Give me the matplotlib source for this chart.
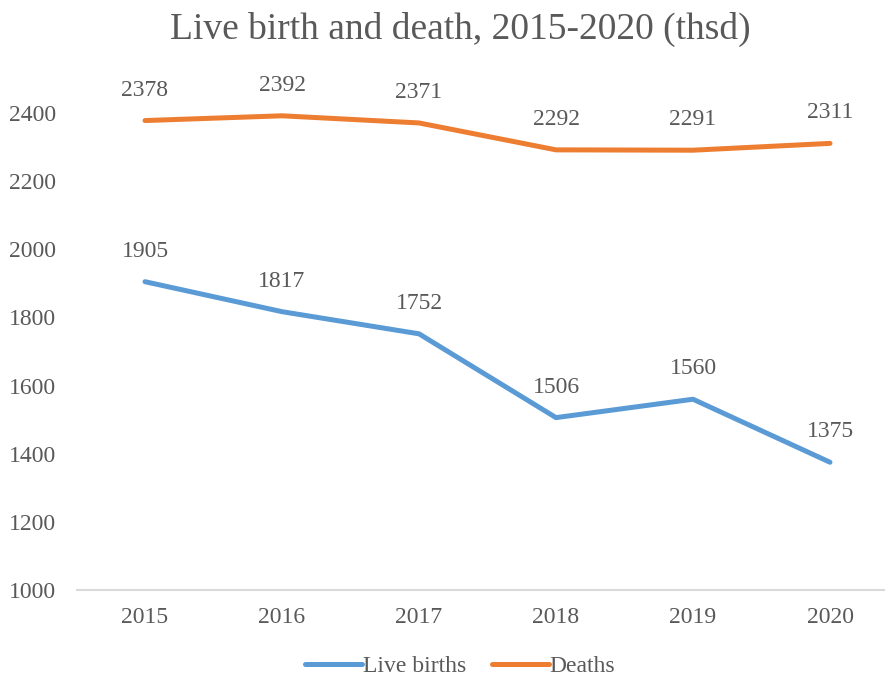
import matplotlib
matplotlib.use("Agg")
import matplotlib.pyplot as plt

years = ["2015", "2016", "2017", "2018", "2019", "2020"]
live_births = [1905, 1817, 1752, 1506, 1560, 1375]
deaths = [2378, 2392, 2371, 2292, 2291, 2311]
yticks = [1000, 1200, 1400, 1600, 1800, 2000, 2200, 2400]

plt.rcParams['font.family'] = ['Liberation Serif', 'DejaVu Serif']
txt = '#595959'
blue = '#5B9BD5'
orange = '#ED7D31'
fs = 17

fig = plt.figure(figsize=(8.85, 6.81), dpi=100)
ax = fig.add_axes([76.5/885, 91/681, (898.5-76.5)/885, (590-79)/681])
x = list(range(len(years)))
l1, = ax.plot(x, live_births, color=blue, lw=3.6, solid_capstyle='round', solid_joinstyle='round', label='Live births')
l2, = ax.plot(x, deaths, color=orange, lw=3.6, solid_capstyle='round', solid_joinstyle='round', label='Deaths')
for xi, v in zip(x, live_births):
    ax.annotate(str(v), (xi, v), xytext=(0, 22), textcoords='offset points', ha='center', va='center', fontsize=fs, color=txt)
for xi, v in zip(x, deaths):
    ax.annotate(str(v), (xi, v), xytext=(0, 22), textcoords='offset points', ha='center', va='center', fontsize=fs, color=txt)

ax.set_xlim(-0.5, 5.5)
ax.set_ylim(1000, 2500)
ax.set_yticks(yticks)
ax.set_xticks(x)
ax.set_xticklabels(years)
ax.tick_params(axis='both', length=0, labelsize=fs, labelcolor=txt)
ax.tick_params(axis='x', pad=12)
ax.tick_params(axis='y', pad=48.6)
for lab in ax.get_yticklabels():
    lab.set_horizontalalignment('left')
for s in ['top', 'right', 'left']:
    ax.spines[s].set_visible(False)
ax.spines['bottom'].set_color('#D9D9D9')
ax.spines['bottom'].set_linewidth(1.5)

fig.text(0.52, 0.957, "Live birth and death, 2015-2020 (thsd)", ha='center', va='center', fontsize=27, color=txt)
leg = fig.legend(handles=[l1, l2], loc='center', bbox_to_anchor=(0.52, 0.022), ncol=2, frameon=False,
                 fontsize=fs, handlelength=2.4, handletextpad=0.05, columnspacing=1.1, labelcolor=txt)
fig.savefig('out.png', dpi=100)
